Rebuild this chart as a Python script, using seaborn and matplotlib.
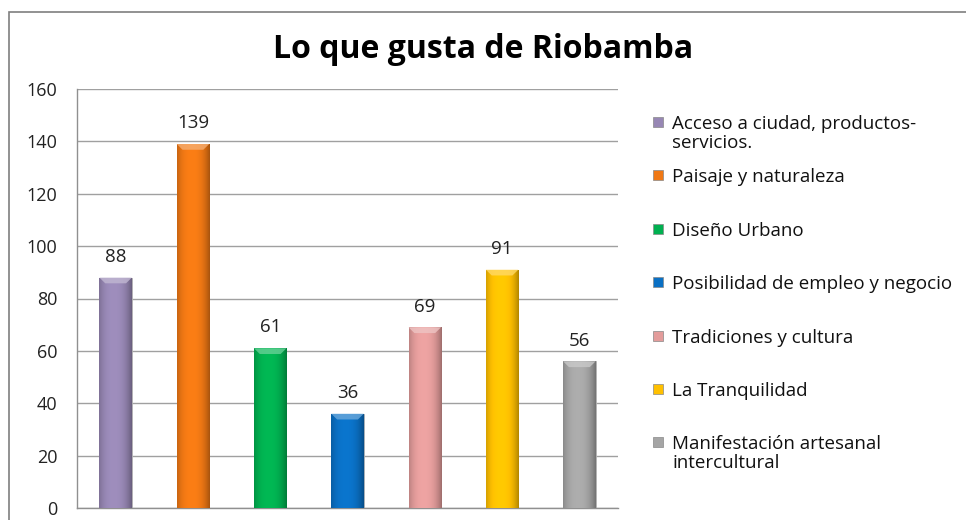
import numpy as np
import pandas as pd
import seaborn as sns
import matplotlib.pyplot as plt
from matplotlib.patches import Rectangle, Polygon
from matplotlib.colors import to_rgb

# data
categories = ['Acceso a ciudad, productos-\nservicios.', 'Paisaje y naturaleza', 'Diseño Urbano',
              'Posibilidad de empleo y negocio', 'Tradiciones y cultura', 'La Tranquilidad',
              'Manifestación artesanal\nintercultural']
values = [88, 139, 61, 36, 69, 91, 56]
colors = ['#9787B4', '#F07814', '#00B050', '#0A70C4', '#E39C9B', '#FFC000', '#A5A5A5']

sns.set_theme(style='white')
plt.rcParams['font.family'] = ['Open Sans', 'DejaVu Sans']

df = pd.DataFrame({'cat': categories, 'val': values})

W, H = 966, 520
fig = plt.figure(figsize=(W / 100, H / 100), dpi=100)
ax = fig.add_axes([77 / W, 1 - 508 / H, 541 / W, 419 / H])

sns.barplot(data=df, x='cat', y='val', hue='cat', palette=colors, legend=False,
            width=0.42, ax=ax, saturation=1)

# shading: flat middle, darker edges, light bevel on top
grad = np.linspace(0, 1, 64)
edge = np.clip(np.abs(grad - 0.45) / 0.55, 0, 1) ** 2.5
for p, c in zip(ax.patches, colors):
    base = np.array(to_rgb(c))
    img = np.clip(base[None, :] * (1.05 - 0.35 * edge[:, None]), 0, 1)
    x0, y0, w, h = p.get_x(), p.get_y(), p.get_width(), p.get_height()
    im = ax.imshow(img[None, :, :], extent=[x0, x0 + w, y0, y0 + h], aspect='auto', zorder=3)
    im.set_clip_path(p)
    p.set_edgecolor('#B0B0B0')
    p.set_linewidth(0.6)
    bev = 2.2
    top = np.clip(base * 0.6 + 0.4, 0, 1)
    ax.add_patch(Polygon([[x0, y0 + h], [x0 + w, y0 + h], [x0 + w * 0.82, y0 + h - bev],
                          [x0 + w * 0.18, y0 + h - bev]], closed=True,
                         facecolor=top, edgecolor='none', zorder=4, alpha=0.8))

for i, v in enumerate(values):
    ax.text(i, v + 4.5, str(v), ha='center', va='bottom', fontsize=13.5, color='#222222', zorder=5)

ax.set_ylim(0, 160)
ax.set_xlim(-0.5, len(values) - 0.5)
ax.set_yticks(range(0, 161, 20))
ax.tick_params(axis='y', labelsize=13, colors='#222222', length=0, pad=14)
ax.set_xticks([])
ax.set_xlabel('')
ax.set_ylabel('')
ax.yaxis.grid(True, color='#A0A0A0', linewidth=1)
ax.set_axisbelow(True)
for s in ['top', 'right']:
    ax.spines[s].set_visible(False)
for s in ['left', 'bottom']:
    ax.spines[s].set_color('#909090')
    ax.spines[s].set_linewidth(1)

fig.text(0.5, 1 - 49 / H, 'Lo que gusta de Riobamba', ha='center', va='center',
         fontsize=23, fontweight='bold', color='black')

# legend, evenly spaced like the original
for i, (lab, c) in enumerate(zip(categories, colors)):
    yc = 122 + i * 53.4
    fig.patches.append(Rectangle((653 / W, 1 - (yc + 5) / H), 10 / W, 10 / H,
                                 transform=fig.transFigure, facecolor=c,
                                 edgecolor='#888888', linewidth=0.5))
    fig.text(672 / W, 1 - (yc - 7) / H, lab, ha='left', va='top', fontsize=13.5,
             color='#111111', linespacing=1.05)

# outer chart border
fig.patches.append(Rectangle((9 / W, -0.05), 1.2, 1 - 12 / H + 0.05,
                             transform=fig.transFigure, fill=False,
                             edgecolor='#7F7F7F', linewidth=1.2))

fig.savefig('out.png', dpi=100)
